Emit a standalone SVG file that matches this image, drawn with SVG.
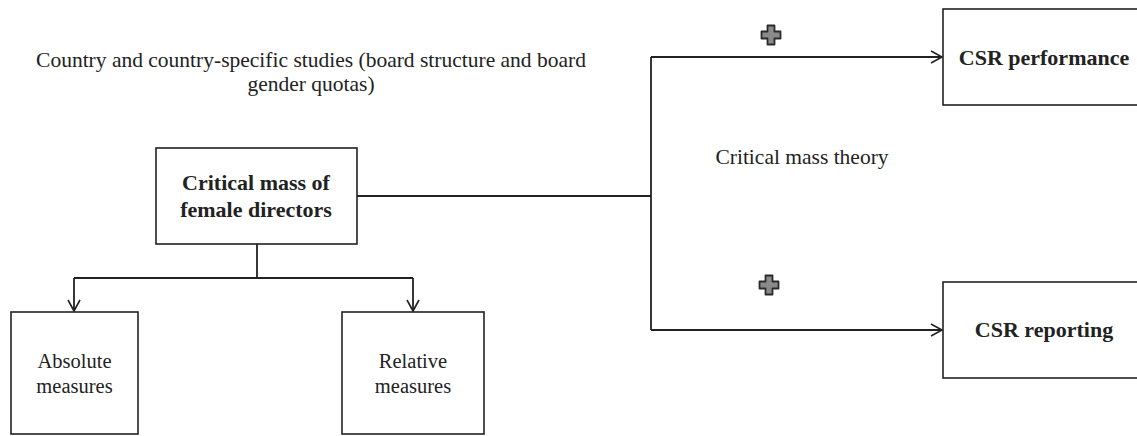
<svg xmlns="http://www.w3.org/2000/svg" width="1137" height="436" viewBox="0 0 1137 436">
<style>
.box{fill:#fff;stroke:#222;stroke-width:1.6}
.ln{fill:none;stroke:#222;stroke-width:1.8}
.t{font-family:"Liberation Serif","Times New Roman",serif;font-size:21.5px;fill:#222}
.m{font-size:20.5px}
.b{font-weight:bold;font-size:22px}
.plus{fill:#8a8a8a;stroke:#2a2a2a;stroke-width:1.8;stroke-linejoin:round}
</style>
<defs>
<marker id="arr" markerWidth="14" markerHeight="14" refX="12" refY="7" orient="auto" markerUnits="userSpaceOnUse">
<path d="M1,1 L12,7 L1,13" fill="none" stroke="#222" stroke-width="1.6"/>
</marker>
<path id="plusShape" d="M-3.5,-9.5 H3.5 V-3.5 H9.5 V3.5 H3.5 V9.5 H-3.5 V3.5 H-9.5 V-3.5 H-3.5 Z"/>
</defs>
<rect width="1137" height="436" fill="#fff"/>
<text class="t" x="311" y="67" text-anchor="middle">Country and country-specific studies (board structure and board</text>
<text class="t" x="311" y="91" text-anchor="middle">gender quotas)</text>
<text class="t" x="802" y="164" text-anchor="middle">Critical mass theory</text>
<g id="connectors">
<path class="ln" d="M357,196 H651"/>
<path class="ln" d="M651,57 V330"/>
<path class="ln" d="M651,57 H942" marker-end="url(#arr)"/>
<path class="ln" d="M651,330 H942" marker-end="url(#arr)"/>
<path class="ln" d="M257,244 V278"/>
<path class="ln" d="M74,278 H413"/>
<path class="ln" d="M74,278 V311" marker-end="url(#arr)"/>
<path class="ln" d="M413,278 V311" marker-end="url(#arr)"/>
<use href="#plusShape" class="plus" x="771" y="35"/>
<use href="#plusShape" class="plus" x="769" y="285"/>
</g>
<g id="critical-mass">
<rect class="box" x="156" y="148" width="201" height="96"/>
<text class="t b" x="256" y="190" text-anchor="middle">Critical mass of</text>
<text class="t b" x="256" y="217" text-anchor="middle">female directors</text>
</g>
<g id="csr-performance">
<rect class="box" x="943" y="9" width="210" height="96"/>
<text class="t b" x="1044" y="65" text-anchor="middle">CSR performance</text>
</g>
<g id="csr-reporting">
<rect class="box" x="943" y="282" width="210" height="96"/>
<text class="t b" x="1044" y="337" text-anchor="middle">CSR reporting</text>
</g>
<g id="absolute-measures">
<rect class="box" x="11" y="312" width="127" height="122"/>
<text class="t m" x="74.5" y="368" text-anchor="middle">Absolute</text>
<text class="t m" x="74.5" y="393" text-anchor="middle">measures</text>
</g>
<g id="relative-measures">
<rect class="box" x="342" y="312" width="142" height="122"/>
<text class="t m" x="413" y="368" text-anchor="middle">Relative</text>
<text class="t m" x="413" y="393" text-anchor="middle">measures</text>
</g>
</svg>
